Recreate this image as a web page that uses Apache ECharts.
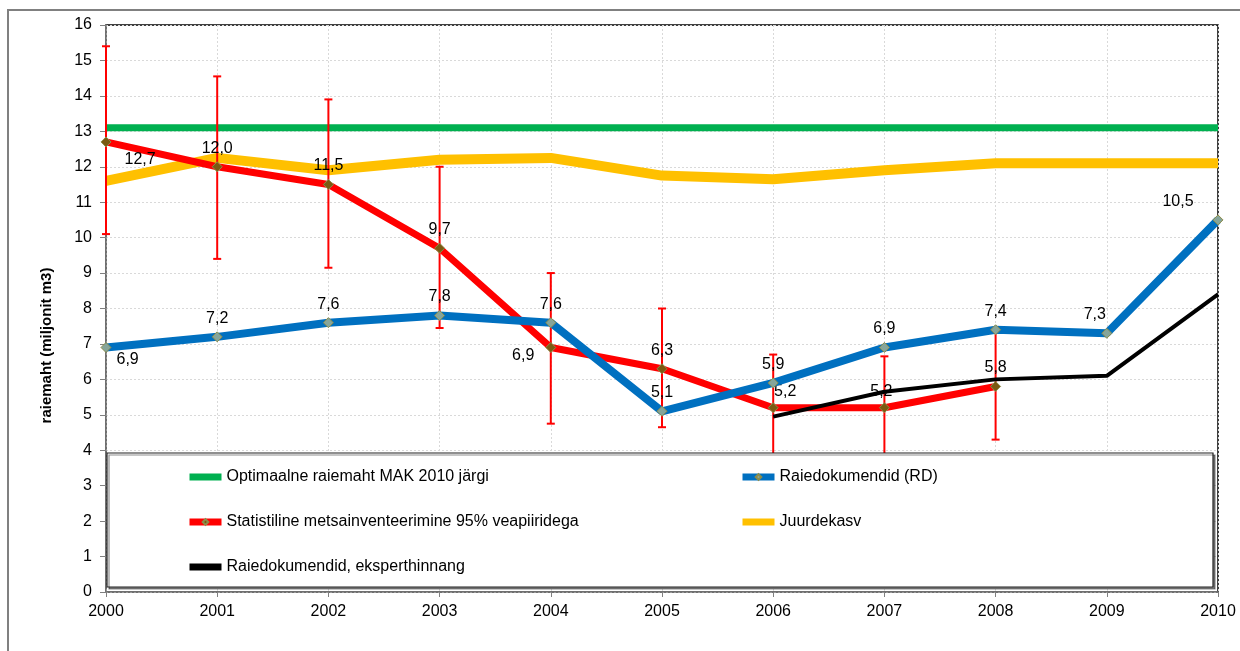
<!DOCTYPE html>
<html>
<head>
<meta charset="utf-8">
<script src="https://cdn.jsdelivr.net/npm/echarts@6/dist/echarts.min.js"></script>
<style>
    html, body { margin: 0; padding: 0; background: #fff; }
    #chart { width: 1240px; height: 651px; }
</style>
</head>
<body>
<div id="chart"></div>
<script>
// Data
var years = ['2000', '2001', '2002', '2003', '2004', '2005', '2006', '2007', '2008', '2009', '2010'];

var optimal    = [13.1, 13.1, 13.1, 13.1, 13.1, 13.1, 13.1, 13.1, 13.1, 13.1, 13.1];
var increment  = [11.6, 12.25, 11.9, 12.2, 12.25, 11.75, 11.65, 11.9, 12.1, 12.1, 12.1];
var inventory  = [12.7, 12.0, 11.5, 9.7, 6.9, 6.3, 5.2, 5.2, 5.8, null, null];
var invLow     = [10.1, 9.4, 9.15, 7.45, 4.75, 4.65, 3.7, 3.75, 4.3];
var invHigh    = [15.4, 14.55, 13.9, 12.0, 9.0, 8.0, 6.7, 6.65, 7.35];
var documents  = [6.9, 7.2, 7.6, 7.8, 7.6, 5.1, 5.9, 6.9, 7.4, 7.3, 10.5];
var expert     = [null, null, null, null, null, null, 4.95, 5.65, 6.0, 6.1, 8.4];

var names = [
    'Optimaalne raiemaht MAK 2010 järgi',
    'Raiedokumendid (RD)',
    'Statistiline metsainventeerimine 95% veapiiridega',
    'Juurdekasv',
    'Raiedokumendid, eksperthinnang'
];

// label placement per point: [position, dx, dy]
var invLabelPos = [
    ['right', 8, 18], ['top', 0, 0], ['top', 0, 0], ['top', 0, 0], ['left', -6, 8],
    ['top', 0, 0], ['top', 12, 2], ['top', -3, 2], ['top', 0, 0]
];
var docLabelPos = [
    ['right', 0, 12], ['top', 0, 0], ['top', 0, 0], ['top', 0, 0], ['top', 0, 0],
    ['top', 0, 0], ['top', 0, 0], ['top', 0, 0], ['top', 0, 0], ['top', -12, 0], ['top', -40, 0]
];

var FONT = '"Liberation Sans", Arial, sans-serif';
var BAR_ICON = 'path://M0,0H32V7H0Z';

function fmt(v) {
    return v.toFixed(1).replace('.', ',');
}

function labelled(values, pos) {
    return values.map(function (v, i) {
        if (v === null) return null;
        var p = pos[i] || ['top', 0, 0];
        return {
            value: v,
            label: { position: p[0], offset: [p[1], p[2]] }
        };
    });
}

var errData = invLow.map(function (lo, i) {
    return [i, lo, invHigh[i]];
});

var chart = echarts.init(document.getElementById('chart'));

var labelStyle = {
    show: true,
    color: '#000',
    fontSize: 16,
    fontFamily: FONT,
    formatter: function (p) { return fmt(p.value); }
};

var legendCommon = {
    orient: 'vertical',
    itemWidth: 32,
    itemHeight: 7,
    itemGap: 29,
    z: 20,
    lineStyle: { width: 7 },
    textStyle: { fontSize: 16, fontFamily: FONT, color: '#000' },
    selectedMode: false
};

chart.setOption({
    animation: false,
    grid: {
        left: 106,
        right: 22,
        top: 25,
        bottom: 59,
        show: true,
        borderColor: '#000',
        borderWidth: 1.5
    },
    graphic: [
        {
            type: 'rect',
            shape: { x: 8, y: 10, width: 1300, height: 700 },
            style: { fill: 'none', stroke: '#808080', lineWidth: 2 },
            z: 0
        },
        {
            type: 'rect',
            shape: { x: 107, y: 453, width: 1106, height: 134 },
            style: { fill: '#fff', stroke: '#202020', lineWidth: 1.2, shadowColor: 'rgba(0,0,0,0.45)', shadowOffsetX: 2, shadowOffsetY: 2 },
            z: 15
        }
    ],
    legend: [
        Object.assign({}, legendCommon, {
            left: 181, top: 464,
            data: [
                { name: names[0], icon: BAR_ICON },
                names[2],
                { name: names[4], icon: BAR_ICON }
            ]
        }),
        Object.assign({}, legendCommon, {
            left: 734, top: 464,
            data: [names[1], { name: names[3], icon: BAR_ICON }]
        })
    ],
    xAxis: {
        type: 'category',
        data: years,
        boundaryGap: false,
        axisLine: { lineStyle: { color: '#808080', width: 1.5 } },
        axisTick: { show: true, length: 5, lineStyle: { color: '#808080' } },
        axisLabel: { color: '#000', fontSize: 16, fontFamily: FONT, margin: 12 },
        splitLine: { show: true, lineStyle: { color: '#d9d9d9', type: [2, 2] } }
    },
    yAxis: {
        type: 'value',
        min: 0,
        max: 16,
        interval: 1,
        name: 'raiemaht (miljonit m3)',
        nameLocation: 'middle',
        nameGap: 52,
        nameTextStyle: { fontSize: 15, fontWeight: 'bold', fontFamily: FONT, color: '#000', padding: [0, 74, 0, 0] },
        axisLine: { show: true, lineStyle: { color: '#808080', width: 1.5 } },
        axisTick: { show: true, length: 6, lineStyle: { color: '#808080' } },
        axisLabel: { color: '#000', fontSize: 16, fontFamily: FONT, margin: 14 },
        splitLine: { show: true, lineStyle: { color: '#d9d9d9', type: [2, 2] } }
    },
    series: [
        {
            name: names[0],
            type: 'line',
            data: optimal,
            symbol: 'none',
            lineStyle: { color: '#00b050', width: 7 },
            itemStyle: { color: '#00b050' },
            z: 2
        },
        {
            name: names[3],
            type: 'line',
            data: increment,
            symbol: 'none',
            lineStyle: { color: '#ffc000', width: 10 },
            itemStyle: { color: '#ffc000' },
            z: 3
        },
        {
            type: 'custom',
            name: 'err',
            data: errData,
            encode: { x: 0, y: [1, 2] },
            clip: false,
            z: 4,
            renderItem: function (params, api) {
                var lo = api.coord([api.value(0), api.value(1)]);
                var hi = api.coord([api.value(0), api.value(2)]);
                var w = 4;
                var st = { stroke: '#ff0000', lineWidth: 2 };
                return {
                    type: 'group',
                    children: [
                        { type: 'line', shape: { x1: lo[0], y1: lo[1], x2: hi[0], y2: hi[1] }, style: st },
                        { type: 'line', shape: { x1: lo[0] - w, y1: lo[1], x2: lo[0] + w, y2: lo[1] }, style: st },
                        { type: 'line', shape: { x1: hi[0] - w, y1: hi[1], x2: hi[0] + w, y2: hi[1] }, style: st }
                    ]
                };
            }
        },
        {
            name: names[2],
            type: 'line',
            data: labelled(inventory, invLabelPos),
            symbol: 'diamond',
            symbolSize: 10,
            showAllSymbol: true,
            lineStyle: { color: '#ff0000', width: 7 },
            itemStyle: { color: '#7b5a12', borderColor: '#8c8c4a', borderWidth: 1 },
            label: labelStyle,
            z: 5
        },
        {
            name: names[1],
            type: 'line',
            data: labelled(documents, docLabelPos),
            symbol: 'diamond',
            symbolSize: 10,
            showAllSymbol: true,
            lineStyle: { color: '#0070c0', width: 8 },
            itemStyle: { color: '#86a59a', borderColor: '#8c8c4a', borderWidth: 1 },
            label: labelStyle,
            z: 6
        },
        {
            name: names[4],
            type: 'line',
            data: expert,
            symbol: 'none',
            lineStyle: { color: '#000', width: 4 },
            itemStyle: { color: '#000' },
            z: 7
        }
    ]
});

window.addEventListener('resize', function () {
    chart.resize();
});
</script>
</body>
</html>
